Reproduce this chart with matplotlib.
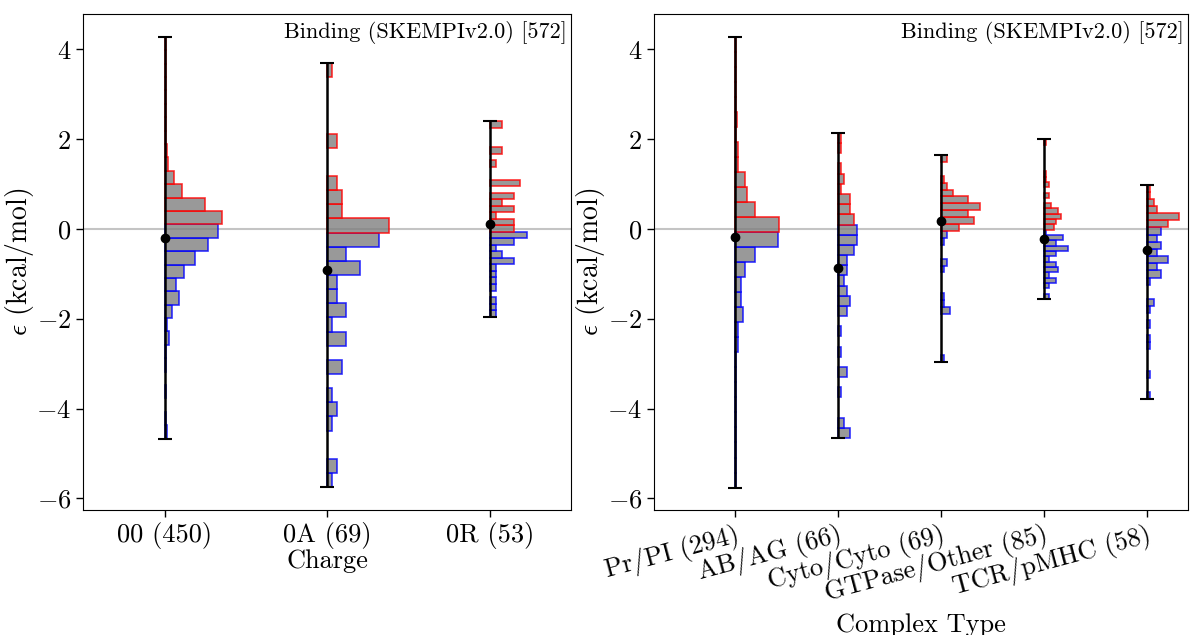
import numpy as np
import matplotlib
matplotlib.use("Agg")
import matplotlib.pyplot as plt

plt.rcParams['font.family'] = 'serif'
plt.rcParams['font.serif'] = ['cmr10']
plt.rcParams['mathtext.fontset'] = 'cm'
plt.rcParams['axes.formatter.use_mathtext'] = True

# ---------------- data ----------------
charge_labels = ["00 (450)", "0A (69)", "0R (53)"]
charge_n = [450, 69, 53]
charge_min = [-4.67, -5.75, -1.95]
charge_max = [4.28, 3.70, 2.40]
charge_mean = [-0.20, -0.91, 0.11]
# histogram counts, 30 bins, listed from the top bin (max) down to the bottom bin (min)
counts_00 = [1, 1, 1, 1, 2, 1, 1, 2, 3, 4, 13, 23, 55, 79, 74, 59, 41, 27, 15, 19,
             10, 3, 6, 1, 2, 0, 2, 0, 1, 3]
counts_0A = [1, 0, 0, 0, 0, 2, 0, 0, 2, 3, 3, 13, 11, 4, 7, 2, 2, 4, 1, 4,
             0, 3, 0, 1, 2, 1, 0, 0, 2, 1]
counts_0R = [2, 0, 0, 0, 2, 0, 1, 0, 0, 5, 0, 4, 2, 4, 1, 4, 4, 6, 4, 1,
             2, 4, 1, 1, 1, 1, 0, 1, 1, 1]

complex_labels = ["Pr/PI (294)", "AB/AG (66)", "Cyto/Cyto (69)", "GTPase/Other (85)", "TCR/pMHC (58)"]
complex_n = [294, 66, 69, 85, 58]
complex_min = [-5.76, -4.66, -2.97, -1.56, -3.79]
complex_max = [4.28, 2.14, 1.65, 2.00, 0.99]
complex_mean = [-0.18, -0.87, 0.18, -0.23, -0.47]
counts_prpi = [1, 1, 1, 1, 1, 3, 1, 5, 4, 15, 17, 29, 63, 62, 28, 15, 8, 9, 12, 4,
               4, 1, 1, 2, 1, 1, 1, 1, 1, 1]
counts_abag = [1, 1, 0, 1, 2, 1, 4, 4, 5, 6, 6, 5, 3, 3, 2, 3, 4, 3, 0, 1,
               0, 1, 0, 3, 0, 1, 0, 0, 2, 4]
counts_cyto = [2, 0, 0, 1, 2, 4, 9, 13, 9, 11, 6, 2, 1, 0, 0, 2, 1, 0, 0, 0,
               1, 1, 3, 0, 0, 0, 0, 0, 0, 1]
counts_gtp = [1, 0, 0, 0, 0, 0, 1, 1, 2, 0, 2, 0, 3, 6, 7, 5, 4, 1, 8, 5,
              10, 5, 2, 5, 6, 2, 5, 2, 0, 2]
counts_tcr = [1, 1, 2, 3, 9, 6, 4, 3, 4, 3, 6, 3, 4, 1, 0, 0, 2, 1, 0, 1,
              0, 1, 1, 0, 0, 0, 1, 0, 0, 1]

annotation = "Binding (SKEMPIv2.0) [572]"
n_bins = 30
yticks = [-6, -4, -2, 0, 2, 4]


def draw_groups(ax, mins, maxs, means, ns, counts_list):
    for pos, (lo, hi, mu, n, cnt) in enumerate(zip(mins, maxs, means, ns, counts_list)):
        edges = np.linspace(lo, hi, n_bins + 1)
        cnt_bottom_up = np.array(cnt[::-1], dtype=float)
        centers = 0.5 * (edges[:-1] + edges[1:])
        bw = edges[1] - edges[0]
        for c, k in zip(centers, cnt_bottom_up):
            if k <= 0:
                continue
            ec = 'red' if c > 0 else 'blue'
            ax.barh(c, 2.0 * k / n, height=bw, left=pos, align='center',
                    facecolor='gray', edgecolor=ec, linewidth=1.2, alpha=0.8, zorder=2)
        ax.errorbar(pos, mu, yerr=[[mu - lo], [hi - mu]], fmt='o', color='black',
                    ecolor='black', elinewidth=1.8, capsize=5, capthick=1.5, ms=6, zorder=4)
    ax.axhline(0, color='#c4c4c4', lw=1.5, zorder=0)
    ax.set_ylim(-6.26, 4.79)
    ax.set_yticks(yticks)
    ax.tick_params(labelsize=19, direction='out', length=5, width=1)
    ax.set_ylabel(r"$\epsilon$ (kcal/mol)", fontsize=20, labelpad=0)
    ax.text(0.992, 0.985, annotation, transform=ax.transAxes, ha='right', va='top', fontsize=16)


fig = plt.figure(figsize=(11.98, 6.35), dpi=100)
ax1 = fig.add_axes([83 / 1198, 1 - 510 / 635, (571 - 83) / 1198, (510 - 14) / 635])
ax2 = fig.add_axes([654 / 1198, 1 - 510 / 635, (1188 - 654) / 1198, (510 - 14) / 635])

draw_groups(ax1, charge_min, charge_max, charge_mean, charge_n, [counts_00, counts_0A, counts_0R])
ax1.set_xlim(-0.505, 2.5)
ax1.set_xticks(range(len(charge_labels)))
ax1.set_xticklabels(charge_labels)
ax1.set_xlabel("Charge", fontsize=19, labelpad=0)

draw_groups(ax2, complex_min, complex_max, complex_mean, complex_n,
            [counts_prpi, counts_abag, counts_cyto, counts_gtp, counts_tcr])
ax2.set_xlim(-0.786, 4.4)
ax2.set_xticks(range(len(complex_labels)))
ax2.set_xticklabels(complex_labels, rotation=15, ha='right', rotation_mode='anchor')
ax2.set_xlabel("Complex Type", fontsize=19)

fig.savefig("out.png", dpi=100)
